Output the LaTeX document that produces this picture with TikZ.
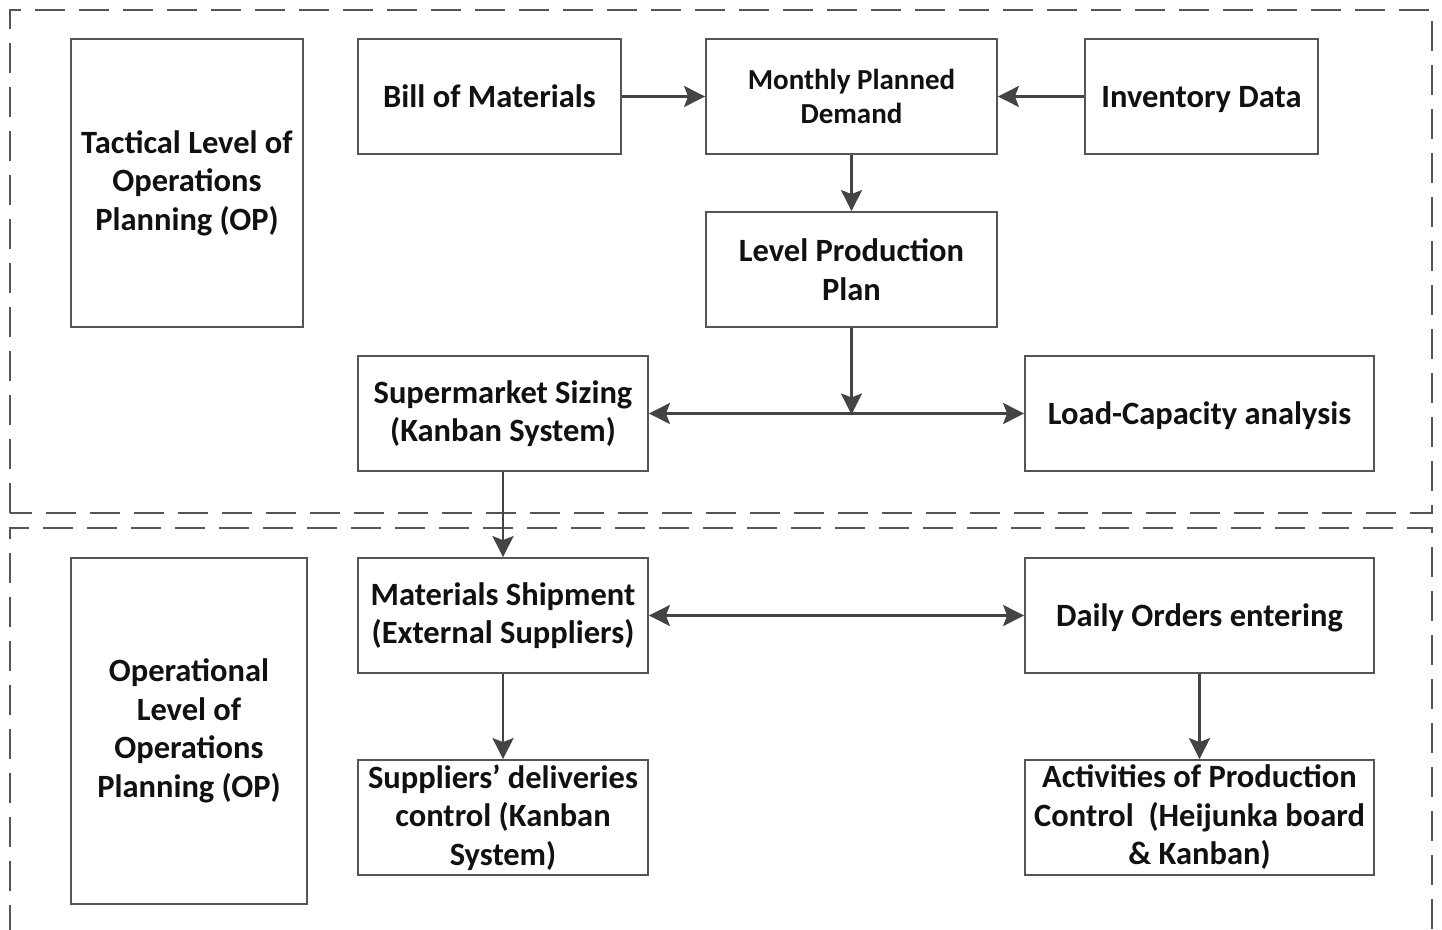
\documentclass[tikz,border=0pt]{standalone}
\usepackage{fontspec}
\setmainfont{Carlito}
\usetikzlibrary{arrows.meta}
\definecolor{boxline}{HTML}{555555}
\definecolor{arrline}{HTML}{444444}
\definecolor{txt}{HTML}{111111}
\begin{document}
\begin{tikzpicture}[x=1pt,y=-1pt,
  box/.style={draw=boxline, line width=1.8pt, inner sep=0pt, align=center,
    font=\fontsize{32.5}{38.5}\selectfont\bfseries, text=txt},
  oneline/.style={text depth=0pt, text height=22pt},
  conn/.style={draw=arrline, line width=2.6pt, -{Stealth[length=21pt,width=21pt,inset=4pt]}},
  conn2/.style={draw=arrline, line width=2.6pt, {Stealth[length=21pt,width=21pt,inset=4pt]}-{Stealth[length=21pt,width=21pt,inset=4pt]}},
  region/.style={draw=boxline, line width=1.8pt, dash pattern=on 30pt off 14pt}]
\useasboundingbox (0,0) rectangle (1442,929);
\fill[white] (0,0) rectangle (1442,929);
% regions
\draw[region] (10,513) -- (10,10) -- (1432,10) -- (1432,513) -- cycle;
\draw[region] (10,935) -- (10,528) -- (1432,528) -- (1432,935);
% boxes
\node[box, minimum width=232pt, minimum height=288pt] (tac) at (187,183) {Tactical Level of\\Operations\\Planning (OP)};
\node[box, oneline, minimum width=263pt, minimum height=115pt] (bom) at (489.5,96.5) {Bill of Materials};
\node[box, minimum width=291pt, minimum height=115pt, font=\fontsize{29}{34}\selectfont\bfseries] (mpd) at (851.5,96.5) {Monthly Planned\\Demand};
\node[box, oneline, minimum width=233pt, minimum height=115pt] (inv) at (1201.5,96.5) {Inventory Data};
\node[box, minimum width=291pt, minimum height=115pt] (lpp) at (851.5,269.5) {Level Production\\Plan};
\node[box, minimum width=290pt, minimum height=115pt] (sms) at (503,413.5) {Supermarket Sizing\\(Kanban System)};
\node[box, oneline, minimum width=349pt, minimum height=115pt] (lca) at (1199.5,413.5) {Load-Capacity analysis};
\node[box, minimum width=236pt, minimum height=346pt] (opl) at (189,731) {Operational\\Level of\\Operations\\Planning (OP)};
\node[box, minimum width=290pt, minimum height=115pt] (msh) at (503,615.5) {Materials Shipment\\(External Suppliers)};
\node[box, oneline, minimum width=349pt, minimum height=115pt] (doe) at (1199.5,615.5) {Daily Orders entering};
\node[box, minimum width=290pt, minimum height=115pt] (sdc) at (503,817.5) {Suppliers’ deliveries\\control (Kanban\\System)};
\node[box, minimum width=349pt, minimum height=115pt] (apc) at (1199.5,817.5) {Activities of Production\\Control\ \ (Heijunka board\\\& Kanban)};
% connectors
\coordinate (jn) at (lpp.south |- sms.east);
\draw[conn] (bom.east) -- (mpd.west);
\draw[conn] (inv.west) -- (mpd.east);
\draw[conn] (mpd.south) -- (lpp.north);
\draw[conn] (lpp.south) -- ([yshift=-1pt]jn);
\draw[conn2] (sms.east) -- (lca.west);
\draw[conn] (sms.south) -- (msh.north);
\draw[conn2] (msh.east) -- (doe.west);
\draw[conn] (msh.south) -- (sdc.north);
\draw[conn] (doe.south) -- (apc.north);
\end{tikzpicture}
\end{document}
